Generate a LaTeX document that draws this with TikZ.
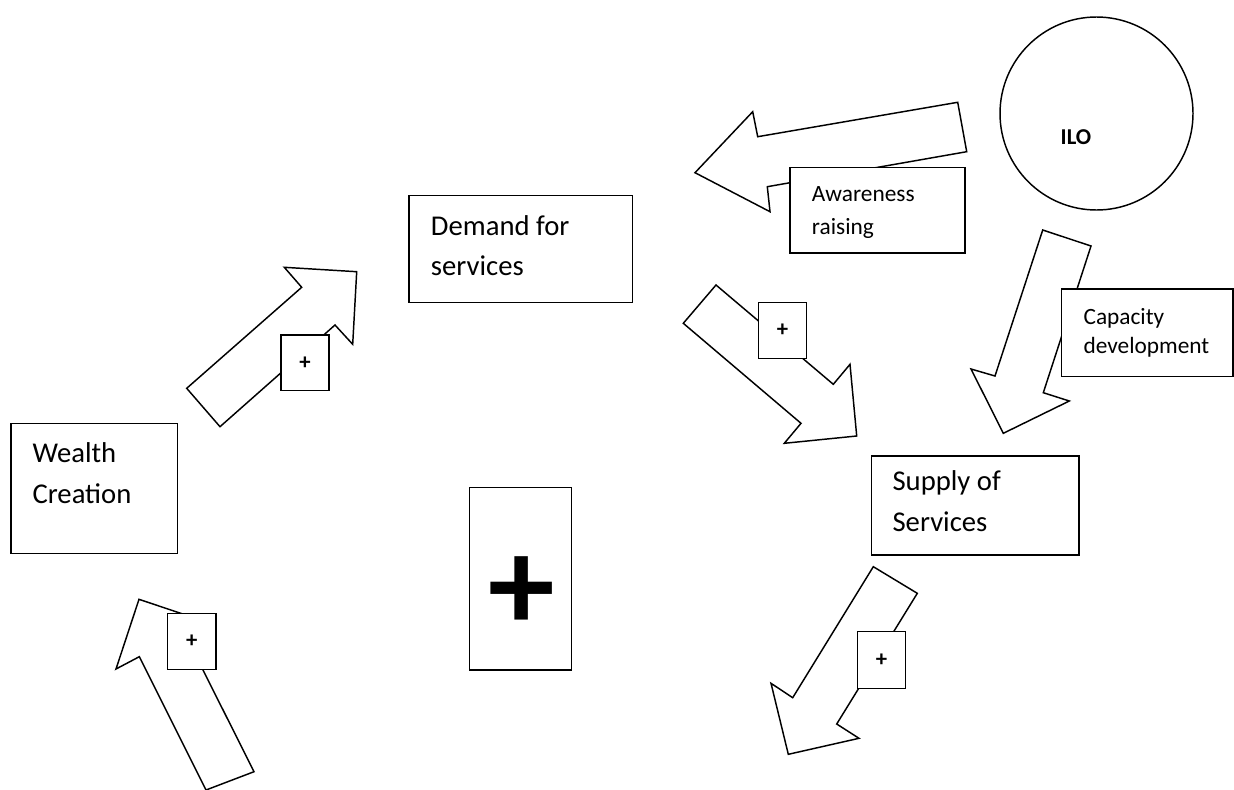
\documentclass[tikz,border=0pt]{standalone}
\usepackage{fontspec}
\setmainfont{Carlito}
\begin{document}
\begin{tikzpicture}[x=0.75pt,y=-0.75pt,
  shape line/.style={draw=black,fill=white,line width=1.1pt,line join=miter},
  box/.style={draw=black,fill=white,line width=1.1pt,rectangle,inner sep=0pt,outer sep=0pt},
  bigtext/.style={inner sep=0pt,anchor=base west,font=\fontsize{21.5pt}{30pt}\selectfont},
  smalltext/.style={inner sep=0pt,anchor=base west,font=\fontsize{17.5pt}{24pt}\selectfont},
  plustext/.style={inner sep=0pt,font=\bfseries\fontsize{17pt}{20pt}\selectfont}]
\useasboundingbox (0,0) rectangle (1234,789);
\clip (0,0) rectangle (1234,789);
% block arrows
\draw[shape line] (957.7,102.3) -- (757.7,136.7) -- (752.7,111.7) -- (695,172.7) -- (770,211.7) -- (767.3,186.7) -- (966.7,151.7) -- cycle;
\draw[shape line] (1042.7,230) -- (1091,246) -- (1043.3,392.7) -- (1069.3,401) -- (1003.3,433.3) -- (971,369) -- (995,376) -- cycle;
\draw[shape line] (716,285) -- (833.3,384.3) -- (850,364.3) -- (856.7,436) -- (784.3,443.3) -- (801,423.3) -- (683.3,323.3) -- cycle;
\draw[shape line] (186.7,388.3) -- (301.7,287.3) -- (284.3,267.3) -- (356.7,271.7) -- (352.7,344.3) -- (335,325) -- (220,426.7) -- cycle;
\draw[shape line] (139,599.3) -- (208.4,622.6) -- (184.9,633.9) -- (254,771.7) -- (206,790) -- (139.3,656.7) -- (116,669) -- cycle;
\draw[shape line] (873.3,566.7) -- (917.3,593.3) -- (836.7,724) -- (859,738.3) -- (788.3,754.3) -- (771,683.3) -- (792.7,697.7) -- cycle;
% boxes
\node[box,minimum width={223.3*0.75pt},minimum height={106.6*0.75pt}] (demand) at (520.65,249) {};
\node[box,minimum width={166.3*0.75pt},minimum height={130*0.75pt}] (wealth) at (94.15,488.3) {};
\node[box,minimum width={207.3*0.75pt},minimum height={99*0.75pt}] (supply) at (975.35,505.5) {};
\node[box,minimum width={175*0.75pt},minimum height={85.3*0.75pt}] (aware) at (877.5,210.35) {};
\node[box,minimum width={171.3*0.75pt},minimum height={87.7*0.75pt}] (capac) at (1147.35,332.85) {};
\node[box,minimum width={102.4*0.75pt},minimum height={182.3*0.75pt}] (bigbox) at (520.5,578.85) {};
\node[box,minimum width={48.4*0.75pt},minimum height={56*0.75pt}] (p1) at (782.5,330.3) {};
\node[box,minimum width={48*0.75pt},minimum height={55.7*0.75pt}] (p2) at (305,362.85) {};
\node[box,minimum width={48.3*0.75pt},minimum height={56*0.75pt}] (p3) at (191.85,641.3) {};
\node[box,minimum width={48.4*0.75pt},minimum height={56.6*0.75pt}] (p4) at (881.5,660) {};
\node[draw=black,line width=1.1pt,circle,inner sep=0pt,minimum size={193*0.75pt}] (ilo) at (1096.5,113.5) {};
% texts
\node[bigtext] (d1) at (430.7,235) {Demand for};
\node[bigtext] (d2) at (430.7,275.7) {services};
\node[bigtext] (w1) at (32.3,462.3) {Wealth};
\node[bigtext] (w2) at (32.3,503.3) {Creation};
\node[bigtext] (s1) at (892.3,490.7) {Supply of};
\node[bigtext] (s2) at (892.3,531.7) {Services};
\node[smalltext] (a1) at (811.7,201.7) {Awareness};
\node[smalltext] (a2) at (811.7,234.5) {raising};
\node[smalltext] (c1) at (1083.3,324) {Capacity};
\node[smalltext] (c2) at (1083.3,353) {development};
\node[plustext] (ilotxt) at (1076,136.7) {ILO};
\node[plustext] at (p1.center) (p1t) {+};
\node[plustext] at (p2.center) (p2t) {+};
\node[plustext] at (p3.center) (p3t) {+};
\node[plustext] at (p4.center) (p4t) {+};
\node[inner sep=0pt,anchor=base,font=\bfseries\fontsize{100pt}{100pt}\selectfont] (bigplus) at (521.7,630) {+};
\end{tikzpicture}
\end{document}
